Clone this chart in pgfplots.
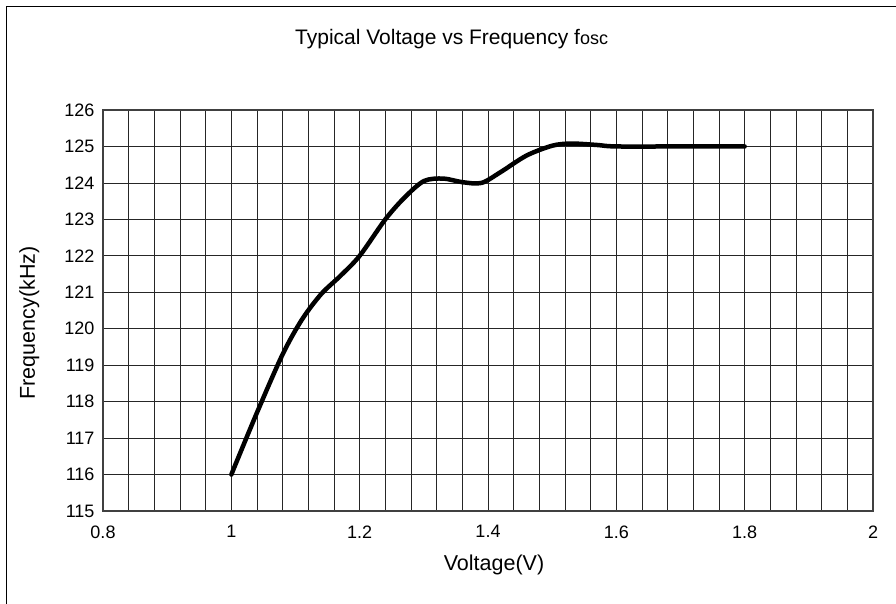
\documentclass[border=0pt]{standalone}
\usepackage{fontspec}
\setmainfont{Liberation Sans}
\usepackage{pgfplots}
\pgfplotsset{compat=1.18}

\begin{document}
\begin{tikzpicture}[x=1pt,y=1pt]
\useasboundingbox (0,0) rectangle (896,604);
\draw[line width=1pt] (6,0) -- (6,597) -- (896,597);

\begin{axis}[
    at={(103pt,93pt)}, anchor=south west,
    scale only axis,
    width=770pt, height=401pt,
    xmin=0.8, xmax=2, ymin=115, ymax=126,
    xtick={0.8,1,1.2,1.4,1.6,1.8,2},
    minor x tick num=4,
    ytick={115,116,...,126},
    grid=both,
    grid style={black!85, line width=0.7pt},
    minor grid style={black!85, line width=0.7pt},
    axis line style={black!75, line width=1.3pt},
    major tick length=0pt, minor tick length=0pt,
    tick label style={font=\fontsize{18}{20}\selectfont},
    /pgf/number format/assume math mode=true,
    xticklabel style={yshift=-11pt},
    yticklabel style={xshift=-5pt},
]
\addplot[black, line width=4.5pt, smooth, tension=0.5, line cap=round] coordinates {
    (1.00,116.0) (1.04,117.7) (1.08,119.3) (1.11,120.25) (1.14,120.95)
    (1.17,121.45) (1.20,122.0) (1.24,123.0) (1.27,123.6) (1.30,124.05)
    (1.33,124.12) (1.36,124.02) (1.39,124.0) (1.42,124.3) (1.46,124.75)
    (1.50,125.02) (1.53,125.08) (1.57,125.04) (1.60,125.0) (1.70,125.0) (1.80,125.0)
};
\end{axis}

\node[anchor=base west, inner sep=0pt, font=\fontsize{21}{24}\selectfont] at (295,559)
    {Typical Voltage vs Frequency f{\fontsize{18}{20}\selectfont osc}};
\node[anchor=base, inner sep=0pt, font=\fontsize{21.5}{24}\selectfont] at (494,33) {Voltage(V)};
\node[anchor=base, rotate=90, inner sep=0pt, font=\fontsize{21.5}{24}\selectfont] at (35,281) {Frequency(kHz)};
\end{tikzpicture}
\end{document}
